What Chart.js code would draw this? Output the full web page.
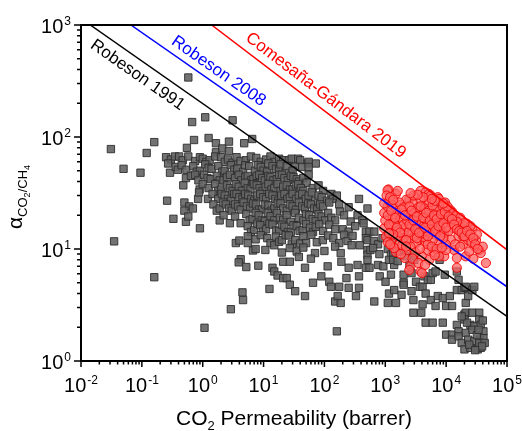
<!DOCTYPE html>
<html>
<head>
<meta charset="utf-8">
<script src="https://cdn.jsdelivr.net/npm/chart.js@4.4.0/dist/chart.umd.min.js"></script>
<style>html,body{margin:0;padding:0;background:#fff}</style>
</head>
<body>
<canvas id="myChart" width="522" height="431"></canvas>
<script>
// CO2/CH4 upper bound plot

// [CO2 permeability (barrer), CO2/CH4 selectivity]
const polymers = [
  [0.58,340],[0.67,136],[1.1,150],[3.1,141],[0.031,78],[0.05,52],[0.095,48],[0.12,72],[0.16,90],[0.55,80],
  [0.72,94],[1.25,98],[1.65,88],[1.65,73],[2.1,79],[2.7,91],[2.7,75],[4.8,88],[6.5,96],[0.48,37],
  [0.035,11.7],[0.16,5.6],[1.07,1.98],[2.9,2.9],[4.5,4.1],[4.6,3.5],[160,1.84],
  [0.25,66],[0.3,63],[0.35,67],[0.41,67],[0.47,62],[0.58,67],[0.75,61],[0.27,58],[0.9,66],[1.0,64],
  [1.15,60],[1.3,62],[1.6,67],[2.0,66],[2.3,60],[2.6,63],[3.1,59],[3.6,66],[4.2,61],[5.1,62],[6.2,67],
  [7.6,65],[9.0,60],[11,63],[13,67],[15,60],[18,64],[21,62],[26,62],[29,64],[37,64],[40,62],[53,58],[72,58],[55,60],
  [0.29,48],[0.36,54],[0.39,51],[0.45,56],[0.54,51],[0.7,55],[0.8,49],[0.9,50],[1.1,57],[1.25,53],[1.4,52],
  [1.8,55],[2.1,49],[2.3,50],[2.9,56],[3.3,51],[3.7,52],[4.6,49],[5.0,56],[5.8,55],[7.2,50],[8.1,56],[9,54],
  [10,50],[11.5,49],[12,58],[14,55],[16,52],[18,51],[19,57],[23,48],[24,55],[33,54],[43,54],[55,54],[30,50],
  [0.53,43],[0.64,45],[0.75,46],[0.85,41],[1.05,46],[1.2,43],[1.35,42],[1.7,45],[1.9,41],[2.2,41],[2.5,44],
  [2.8,46],[3.4,43],[3.9,46],[4.3,41],[5.0,44],[5.5,45],[6.2,41],[6.8,42],[7.7,45],[8.5,46],[9.5,43],[10.5,41],
  [12,45],[13,44],[14.5,41],[16.5,42],[18,46],[20,46],[22,43],[25,41],[28,45],[31,44],[35,42],[38,40],[45,43],[55,46],[51,39],
  [0.89,34],[1.0,38],[1.25,35],[1.6,38],[1.8,33],[2.0,34],[2.5,37],[2.8,35],[3.1,33],[3.5,38],[3.9,36],
  [4.4,33],[4.9,39],[5.5,35],[6.1,34],[6.9,38],[7.7,37],[8.6,35],[9.6,33],[10.8,36],[12,38],[13.5,34],[15,35],
  [17,38],[19,33],[21,36],[24,37],[27,34],[30,34],[34,37],[37,38],[41,35],[45,33],[64,35],[80,37],[95,33],[130,31],
  [0.26,27],[0.84,28],[0.87,32],[1.22,28],[1.45,31],[1.8,28],[2.05,31],[2.3,30],[2.6,28],[2.9,27],[3.3,31],
  [3.6,31],[4.0,29],[4.5,28],[5.0,31],[5.6,30],[6.3,28],[7.0,27],[7.9,30],[8.8,31],[9.9,29],[11,28],[12.4,31],
  [14,30],[15.6,28],[17.5,27],[19.5,30],[22,31],[24.5,28],[27,29],[30,31],[34,28],[38,30],[43,31],[49,28],
  [55,30],[62,32],[70,27],[80,30],[90,29],[110,27],[137,28],[160,30],
  [0.5,26],[0.6,24],[0.69,23],[0.5,22],[1.5,25],[1.7,22],[1.9,23],[2.15,26],[2.4,25],[2.7,23],[3.0,22],
  [3.4,25],[3.8,24],[4.2,22.5],[4.7,26],[5.3,24],[6.0,23],[6.7,25.5],[7.5,25],[8.4,22.5],[9.4,22.5],[10.5,25],
  [12,24.5],[13.5,22],[15,23],[17,25.5],[19,25.5],[21,23],[24,22],[27,25],[30,24],[34,22.5],[38,26],[43,24],
  [48,23],[54,25.5],[60,25],[68,23],[76,22.5],[85,25],[95,24],[120,26],[175,25],[180,21.6],[250,23.6],[370,28],[510,23],
  [0.33,18.6],[0.53,17.5],[0.58,19.5],[1.9,18],[2.2,20],[2.8,17],[3.4,19.5],[4.2,17],[5.2,20.5],[5.9,18],
  [6.6,18.5],[7.4,21],[8.3,20],[9.3,18],[10.5,17.8],[11.7,21],[13,19.6],[14.8,18],[16.5,21],[18.5,19],[21,18.2],
  [24,20],[28,17.5],[33,21],[38,19],[45,18],[50,20.5],[56,20],[64,18.5],[72,17.8],[80,20.5],[90,19.5],[102,18],
  [115,21],[130,19],[150,18],[210,20],[270,17.6],[350,20],[420,18],[440,17],
  [0.9,15.3],[5.5,16],[6.2,14.2],[7,14.8],[7.9,16.8],[8.8,16.3],[9.8,14.3],[11,15],[12.5,16.8],[14,16.5],
  [16,14.6],[18,14.5],[20,16.5],[22,15.8],[25,14.2],[28,14.2],[31,16.3],[35,16],[39,14.5],[44,14.8],[50,16.7],
  [58,15.5],[65,14.2],[72,15.8],[82,16.6],[95,14.5],[120,16.5],[150,15],[200,15],[250,14.3],[320,16],[480,14.3],[550,14.3],[660,14.3],
  [3.5,11.3],[4.0,11.9],[5.5,13],[5.5,11.3],[7.4,12.2],[9,13.3],[11.5,12.5],[13,11.3],[16,12.9],[15,10.8],
  [18,11.6],[20,12],[23,13.3],[26,13.2],[29,11],[33,12],[40,11.2],[45,13],[50,11.3],[61,13.4],[75,11.5],[94,12],
  [115,13.2],[140,12.5],[175,11.3],[210,13.4],[240,11.8],[290,13.1],[380,10.8],[280,10.8],[480,12.5],[510,12],
  [650,11.8],[760,11],[900,12.5],
  [6.7,9.7],[7.4,10],[10.7,9.8],[20,9.3],[27,10.2],[35,9.5],[45,10.3],[70,9.2],[100,9.6],[150,10.5],[185,9.2],
  [510,9.8],[510,8.9],[570,9.8],[630,10.2],[800,9.0],[1100,10],[1240,8.9],[1300,11.5],[1350,9.2],[1700,9.5],
  [4.2,8.1],[3.9,7.6],[5.2,6.9],[8.2,7.1],[14,6.8],[15,6.3],[17,5.8],[21,5.5],[12.5,4.4],[21,7.7],[27,7.7],
  [38,8.5],[48,6.8],[60,8.2],[24,5.5],[27,4.8],[33,4.2],[48,3.8],[65,5.0],[89,5.7],[113,7.0],[120,5.1],[128,4.6],
  [150,3.4],[185,3.3],[165,3.8],[230,5.5],[250,4.5],[370,5.7],[480,6.8],[510,8.0],[350,7.2],[250,6.8],[190,7.7],
  [175,4.6],[370,4.5],[330,3.8],[660,3.4],[550,6.8],[760,7.2],[810,5.7],[930,7.0],[1010,5.1],[1150,4.0],[1100,3.3],
  [1500,3.3],[1400,4.3],[1400,7.2],[1150,8.0],[1240,5.9],[1350,8.0],[1600,7.8],[2000,5.0],[2000,5.9],[2000,4.8],
  [1850,3.9],[2200,8.6],[2500,7.2],[2700,4.2],[2700,6.1],[2900,3.5],[2900,2.7],[2900,8.6],[3000,8.0],[3200,5.1],
  [3700,4.6],[3900,2.7],[4100,3.2],[4100,4.6],[4400,5.7],[4600,2.2],[4600,4.0],[5000,5.3],[5600,3.5],[5600,5.3],
  [6000,2.2],[6000,6.1],[6700,3.1],[6700,6.3],[7300,3.8],[7800,8.0],[8800,2.2],[8800,3.65],[9500,5.9],[10000,3.1],
  [11500,3.8],[12500,3.1],[15000,4.3],[15000,6.3],[16000,5.3],[18000,4.3],[20000,4.5],[21000,4.6],[21000,3.3],
  [23000,3.8],[27000,4.3],[29000,4.6],[20000,2.6],[21000,2.7],[27000,2.7],[35000,2.7],[20000,2.35],[35000,2.35],
  [15000,2.1],[25000,2.1],[29000,2.04],[37000,2.1],[10000,1.72],[12500,1.72],[16000,1.84],[21000,1.78],[41000,1.84],
  [12500,1.55],[16000,1.66],[18000,1.45],[23000,1.55],[29000,1.5],[36000,1.55],[41000,1.6],[20000,1.27],[25000,1.31],
  [33000,1.27],[37000,1.31],[35000,1.45],[43000,1.45],[27000,1.9],[32000,1.7],[24000,1.4],[39000,1.35],[30000,1.25],
  [34000,1.9],[40000,2.3],[22000,2.2],[18000,2.5]
];

const tmPolymers = [
  [1130,34],[1090,33.5],[1500,31],[2480,28],[3800,33],[4600,32],[5200,31],[5600,30],[7300,29],[5300,26],
  [7600,28],[9600,26],[7800,22.4],[11000,21],[13500,19.5],[16000,17.5],[20000,15.8],[27000,14.9],[24000,13.8],
  [29000,10.6],[35000,9.8],[45000,7.5],[37000,9.2],[19000,11],[21000,8.6],[15000,6.8],[12000,12.1],[13000,15.3],
  [16000,13.1],[10500,18.8],[12000,17],[8100,18],[6200,15.8],[9300,13.8],[7600,11.3],[6200,9.4],[4800,9.8],
  [4000,8.6],[2600,7],[2480,6.5],[3800,6.3],[2100,8.3],[1500,9.4],[1250,10.8],[1030,12.9],[960,15.3],[1000,18],
  [960,21],[1090,23.9],[960,25.6],[1500,23],[1950,21],[2480,18.8],[3200,17],[4100,14.9],[5300,13.4],[3200,22.4],
  [4100,21],[2900,25.6],[2200,27.5],[1800,24.8],[1330,19.6],[1700,17.6],[2200,15.8],[2800,14.3],[3600,12.1],
  [4600,11.7],[3200,11.3],[2480,12.1],[1950,13.4],[1500,14.9],[1250,16.5],[1700,11],[2300,9.8],[1330,12.5],
  [5600,19.6],[6800,22.4],[4800,25.6],[3800,27.5],[2900,30],[8700,19.6],[6800,13.4],[9900,11],[9300,8.6],
  [13500,9.8],[15000,8.3],[7600,8.6],[5300,8.0],[4000,6.1],
  [1100,20],[1200,14],[1400,17],[1600,21],[1800,19],[2000,16.5],[2300,18],[2600,20],[2700,16],[3000,13],
  [3400,15],[3500,19],[3900,17.5],[4300,16],[4500,18.5],[5000,17],[5500,15],[6000,12],[6500,17.5],[7000,15],
  [7200,20],[8000,16],[8500,14],[9000,12.5],[1150,27],[1300,25],[1700,26],[2000,23.5],[2500,24],[3000,21],
  [3500,23.5],[4400,23],[5200,22],[6000,24.5],[1100,11.5],[1400,10.2],[1900,10.8],[2600,10.5],[3100,9.3],
  [3700,10],[4300,12.8],[5000,11],[5800,10.5],[2000,12.5],[2400,14],[3300,12.5],[4000,13.8],[4800,14.5],
  [1150,16.5],[1600,13],[10500,23],[12500,21.5],[14000,20],[17000,19],[18500,16.5],[22000,16.8],[25000,16],
  [23000,12],[26000,11.5],[31000,12],[32000,13.5],[11000,14.5],[14000,11],[17000,10.5],[19000,13],[8800,24],
  [11500,22.5],[20000,17],[15000,17.5],[40000,10.5],[28000,8.2],[10000,9.8],[7000,10],[24000,9.5],
  [1050,30],[1200,29],[1350,27.5],[1250,22],[1450,19],[1550,15.5],[1750,14],[1850,22.5],[2100,20],[2200,12],
  [2500,16.5],[2700,22],[2900,18],[3100,15],[3300,19.5],[3600,14],[3800,24],[4200,19],[4500,15.5],[4700,21],
  [5000,13],[5400,18],[5800,16.5],[6300,20],[6600,14.5],[7000,18.5],[7500,16],[8200,20.5],[8000,13],[9000,17],
  [9500,21.5],[10000,15.5],[11000,19.5],[12500,18.5],[13500,16.5],[15000,15],[16500,14.5],[18000,14],[20000,13],
  [22000,14.5],[25000,13.5],[28000,12.5],[30000,11],[33000,10],[10500,24],[9000,25.5],[6500,27],[5800,28],
  [4200,29],[3400,30.5],[2600,31.5],[1600,33],[1350,13.5],[1200,11],[2800,8.2],[3500,7.5],[4500,7.2],[6500,8.8],
  [8500,10.3],[1150,13.8],[1800,9],[2200,10.5]
];

// upper bound lines, end points
const robeson1991 = [[0.0142,1000],[1e5,2.5]];
const robeson2008 = [[0.066,1000],[1e5,4.6]];
const comesana2019 = [[1.4,1000],[1e5,9.84]];

const xDecades = [-2,-1,0,1,2,3,4,5];
const yDecades = [0,1,2,3];

const FONT = 'Arial, "Liberation Sans", sans-serif';

const toXY = arr => arr.map(p => ({ x: p[0], y: p[1] }));

const lineLabels = [
  { text: 'Robeson 1991', line: robeson1991, at: 0.115, off: 14, color: '#000000' },
  { text: 'Robeson 2008', line: robeson2008, at: 1.4, off: -12, color: '#0000ff' },
  { text: 'Comesaña-Gándara 2019', line: comesana2019, at: 78, off: -13, color: '#ff0000' }
];

// draw "10" with a superscript exponent, x is left edge
function powWidth(ctx, exp) {
  ctx.font = '20px ' + FONT;
  const w1 = ctx.measureText('10').width;
  ctx.font = '12px ' + FONT;
  return w1 + ctx.measureText(String(exp)).width + 1;
}
function drawPow(ctx, x, base, exp) {
  ctx.font = '20px ' + FONT;
  ctx.fillText('10', x, base);
  const w1 = ctx.measureText('10').width;
  ctx.font = '12px ' + FONT;
  ctx.fillText(String(exp), x + w1 + 1, base - 8.5);
}

const decoration = {
  id: 'decoration',
  afterDraw(chart) {
    const { ctx, chartArea: a, scales } = chart;
    const sx = scales.x, sy = scales.y;
    ctx.save();
    ctx.fillStyle = '#000';
    ctx.strokeStyle = '#000';
    ctx.textAlign = 'left';
    ctx.textBaseline = 'alphabetic';

    // line labels
    lineLabels.forEach(l => {
      const x0 = sx.getPixelForValue(l.line[0][0]), y0 = sy.getPixelForValue(l.line[0][1]);
      const x1 = sx.getPixelForValue(l.line[1][0]), y1 = sy.getPixelForValue(l.line[1][1]);
      const ang = Math.atan2(y1 - y0, x1 - x0);
      const t = (sx.getPixelForValue(l.at) - x0) / (x1 - x0);
      const cx = x0 + t * (x1 - x0) - Math.sin(ang) * l.off;
      const cy = y0 + t * (y1 - y0) + Math.cos(ang) * l.off;
      ctx.save();
      ctx.translate(cx, cy);
      ctx.rotate(ang);
      ctx.font = '17px ' + FONT;
      ctx.fillStyle = l.color;
      ctx.textAlign = 'center';
      ctx.textBaseline = 'middle';
      ctx.fillText(l.text, 0, 0);
      ctx.restore();
    });

    // frame
    ctx.lineWidth = 2;
    ctx.strokeRect(a.left, a.top, a.right - a.left, a.bottom - a.top);

    // ticks
    ctx.lineWidth = 1.5;
    ctx.beginPath();
    xDecades.forEach(d => {
      const px = sx.getPixelForValue(Math.pow(10, d));
      ctx.moveTo(px, a.bottom); ctx.lineTo(px, a.bottom + 6);
      if (d < 5) {
        for (let m = 2; m <= 9; m++) {
          const mx = sx.getPixelForValue(m * Math.pow(10, d));
          ctx.moveTo(mx, a.bottom); ctx.lineTo(mx, a.bottom + 3.5);
        }
      }
    });
    yDecades.forEach(d => {
      const py = sy.getPixelForValue(Math.pow(10, d));
      ctx.moveTo(a.left, py); ctx.lineTo(a.left - 7, py);
      if (d < 3) {
        for (let m = 2; m <= 9; m++) {
          const my = sy.getPixelForValue(m * Math.pow(10, d));
          ctx.moveTo(a.left, my); ctx.lineTo(a.left - 4, my);
        }
      }
    });
    ctx.stroke();

    // tick labels
    xDecades.forEach(d => {
      const px = sx.getPixelForValue(Math.pow(10, d));
      const w = powWidth(ctx, d);
      drawPow(ctx, px - w / 2, 392, d);
    });
    yDecades.forEach(d => {
      const py = sy.getPixelForValue(Math.pow(10, d));
      const w = powWidth(ctx, d);
      drawPow(ctx, 71 - w, py + 8, d);
    });

    // x title
    const xt = [['CO', 21, 0], ['2', 13, 5], [' Permeability (barrer)', 21, 0]];
    let tw = 0;
    xt.forEach(s => { ctx.font = s[1] + 'px ' + FONT; tw += ctx.measureText(s[0]).width; });
    let tx = (a.left + a.right) / 2 - tw / 2;
    xt.forEach(s => {
      ctx.font = s[1] + 'px ' + FONT;
      ctx.fillText(s[0], tx, 425 + s[2]);
      tx += ctx.measureText(s[0]).width;
    });

    // y title
    const yt = [['α', 21, 0], ['CO', 13, 5], ['2', 9, 8], ['/CH', 13, 5], ['4', 9, 8]];
    ctx.save();
    ctx.translate(22, (a.top + a.bottom) / 2 + 4);
    ctx.rotate(-Math.PI / 2);
    tw = 0;
    yt.forEach(s => { ctx.font = s[1] + 'px ' + FONT; tw += ctx.measureText(s[0]).width; });
    tx = -tw / 2;
    yt.forEach(s => {
      ctx.font = s[1] + 'px ' + FONT;
      ctx.fillText(s[0], tx, s[2]);
      tx += ctx.measureText(s[0]).width;
    });
    ctx.restore();

    ctx.restore();
  }
};

const lineStyle = { showLine: true, pointRadius: 0, borderWidth: 1.5, fill: false };

new Chart(document.getElementById('myChart').getContext('2d'), {
  type: 'scatter',
  data: {
    datasets: [
      Object.assign({ label: 'Robeson 1991', data: toXY(robeson1991), borderColor: '#000000', order: 0 }, lineStyle),
      Object.assign({ label: 'Robeson 2008', data: toXY(robeson2008), borderColor: '#0000ff', order: 0 }, lineStyle),
      Object.assign({ label: 'Comesaña-Gándara 2019', data: toXY(comesana2019), borderColor: '#ff0000', order: 0 }, lineStyle),
      {
        label: 'TR polymers',
        data: toXY(tmPolymers),
        pointStyle: 'circle',
        pointRadius: 4.6,
        backgroundColor: 'rgba(255,100,100,0.75)',
        borderColor: 'rgba(240,0,0,0.85)',
        borderWidth: 1,
        order: 1
      },
      {
        label: 'Polymers',
        data: toXY(polymers),
        pointStyle: 'rect',
        pointRadius: 5.2,
        backgroundColor: 'rgba(100,100,100,0.9)',
        borderColor: 'rgba(45,45,45,0.9)',
        borderWidth: 1,
        order: 2
      }
    ]
  },
  options: {
    responsive: false,
    animation: false,
    devicePixelRatio: 1,
    layout: { padding: { left: 81, right: 15, top: 25, bottom: 70 } },
    plugins: { legend: { display: false }, tooltip: { enabled: false } },
    scales: {
      x: { type: 'logarithmic', min: 0.01, max: 1e5, display: false },
      y: { type: 'logarithmic', min: 1, max: 1000, display: false }
    }
  },
  plugins: [decoration]
});
</script>
</body>
</html>
